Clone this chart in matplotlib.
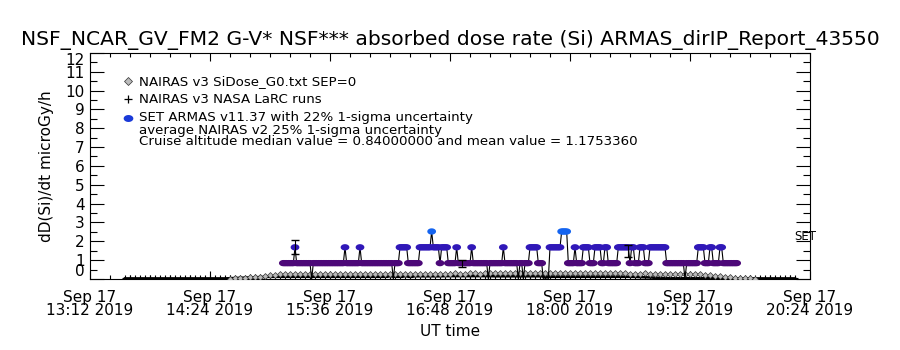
import numpy as np
import matplotlib
matplotlib.use("Agg")
import matplotlib.pyplot as plt
import matplotlib.dates as mdates
from matplotlib.path import Path

# axis range and ticks
t_start = np.datetime64("2019-09-17T13:12")
t_end = np.datetime64("2019-09-17T20:24")
yticks = list(range(0, 13))

# SET ARMAS dose rate: runs of (level, minutes) starting 15:08, 1-min samples
armas_first = np.datetime64("2019-09-17T15:08")
armas_levels = [0.84, 1.68, 0.84, 0.00, 0.84, 1.68, 0.84, 1.68, 0.84, 0.00,
                0.84, 1.68, 0.84, 1.68, 2.52, 1.68, 0.84, 1.68, 0.84, 1.68,
                0.84, 1.68, 0.84, 0.00, 0.84, 1.68, 0.84, 0.00, 0.84, 0.00,
                0.84, 1.68, 0.84, 0.00, 1.68, 2.52, 0.84, 1.68, 0.84, 1.68,
                0.84, 1.68, 0.84, 1.68, 0.84, 1.68, 0.84, 1.68, 0.84, 1.68,
                0.84, 1.68, 0.84, 0.00, 0.84, 1.68, 0.84, 1.68, 0.84, 1.68,
                0.84]
armas_minutes = [7, 1, 9, 1, 19, 1, 8, 1, 19, 1,
                 3, 5, 7, 7, 1, 4, 1, 4, 5, 1,
                 8, 1, 9, 1, 8, 1, 8, 1, 2, 1,
                 3, 5, 3, 4, 7, 4, 4, 1, 4, 4,
                 3, 4, 2, 2, 6, 7, 1, 2, 3, 3,
                 3, 10, 11, 1, 7, 4, 3, 2, 4, 2,
                 9]

# NAIRAS v3 SiDose_G0, every 3 min from 14:36
nairas_first = np.datetime64("2019-09-17T14:36")
nairas_si = [0.02, 0.03, 0.04, 0.06, 0.08, 0.10, 0.13, 0.16, 0.19, 0.22,
             0.24, 0.25, 0.26, 0.26, 0.25, 0.26, 0.27, 0.26, 0.26, 0.27,
             0.27, 0.26, 0.26, 0.27, 0.27, 0.27, 0.26, 0.27, 0.27, 0.28,
             0.27, 0.27, 0.28, 0.28, 0.27, 0.28, 0.28, 0.27, 0.28, 0.28,
             0.28, 0.28, 0.27, 0.28, 0.28, 0.29, 0.28, 0.28, 0.29, 0.29,
             0.28, 0.29, 0.29, 0.29, 0.30, 0.30, 0.31, 0.31, 0.32, 0.32,
             0.32, 0.32, 0.33, 0.33, 0.33, 0.32, 0.33, 0.33, 0.32, 0.32,
             0.32, 0.31, 0.31, 0.31, 0.30, 0.30, 0.29, 0.29, 0.29, 0.29,
             0.28, 0.28, 0.28, 0.29, 0.28, 0.28, 0.28, 0.27, 0.28, 0.27,
             0.27, 0.27, 0.27, 0.26, 0.24, 0.22, 0.20, 0.17, 0.14, 0.12,
             0.09, 0.07, 0.05, 0.04, 0.03, 0.02]

# NAIRAS v3 NASA LaRC runs, every 3 min from 13:33
larc_first = np.datetime64("2019-09-17T13:33")
larc = [0.03, 0.03, 0.03, 0.03, 0.03, 0.03, 0.03, 0.03, 0.03, 0.03,
        0.03, 0.03, 0.03, 0.03, 0.03, 0.03, 0.03, 0.03, 0.03, 0.03,
        0.03, 0.04, 0.05, 0.06, 0.07, 0.08, 0.09, 0.10, 0.11, 0.12,
        0.12, 0.12, 0.12, 0.12, 0.13, 0.12, 0.13, 0.13, 0.12, 0.13,
        0.13, 0.13, 0.13, 0.12, 0.13, 0.13, 0.13, 0.13, 0.13, 0.13,
        0.13, 0.13, 0.13, 0.14, 0.13, 0.13, 0.14, 0.13, 0.14, 0.14,
        0.14, 0.14, 0.14, 0.14, 0.15, 0.15, 0.15, 0.15, 0.15, 0.15,
        0.15, 0.15, 0.15, 0.15, 0.14, 0.14, 0.14, 0.14, 0.14, 0.14,
        0.14, 0.14, 0.14, 0.14, 0.13, 0.13, 0.13, 0.13, 0.13, 0.13,
        0.13, 0.13, 0.13, 0.13, 0.13, 0.13, 0.13, 0.13, 0.13, 0.13,
        0.12, 0.12, 0.11, 0.10, 0.09, 0.08, 0.07, 0.06, 0.05, 0.04,
        0.04, 0.04, 0.04, 0.04, 0.04, 0.04, 0.04, 0.04, 0.04, 0.04,
        0.03, 0.03, 0.03, 0.03, 0.03, 0.03, 0.03, 0.03, 0.03, 0.03,
        0.03, 0.03, 0.03, 0.03, 0.03]

# error bars on SET values
err_times = ["2019-09-17T15:15", "2019-09-17T16:55", "2019-09-17T18:35"]
err_low = [1.33, 0.64, 1.17]
err_high = [2.07, 1.01, 1.81]

title = "NSF_NCAR_GV_FM2 G-V* NSF*** absorbed dose rate (Si) ARMAS_dirIP_Report_43550"
legend_lines = ["NAIRAS v3 SiDose_G0.txt SEP=0",
                "NAIRAS v3 NASA LaRC runs",
                "SET ARMAS v11.37 with 22% 1-sigma uncertainty"]
note_lines = ["average NAIRAS v2 25% 1-sigma uncertainty",
              "Cruise altitude median value = 0.84000000 and mean value = 1.1753360"]

# expand runs
armas_y = np.repeat(armas_levels, armas_minutes)
armas_t = armas_first + np.arange(len(armas_y)).astype("timedelta64[m]")
nairas_t = nairas_first + (3 * np.arange(len(nairas_si))).astype("timedelta64[m]")
larc_t = larc_first + (3 * np.arange(len(larc))).astype("timedelta64[m]")
err_t = np.array(err_times, dtype="datetime64[m]")

level_colors = {0.84: "#4c0878", 1.68: "#3018b8", 2.52: "#1464f0"}
nz = armas_y > 0
armas_c = [level_colors[v] for v in armas_y[nz]]

# flat ellipse marker like the original plot symbol
ang = np.linspace(0, 2 * np.pi, 25)
blob = Path(np.column_stack([np.cos(ang), 0.72 * np.sin(ang)]))

fig = plt.figure(figsize=(9, 3.5), dpi=100)
ax = fig.add_axes([0.1, 0.203, 0.8, 0.646])

ax.plot(larc_t, larc, color="black", lw=1.8, marker="+", ms=4, mew=0.8, zorder=2)
ax.plot(nairas_t, nairas_si, ls="none", marker="D", ms=3, mfc="#bbbbbb",
        mec="#333333", mew=0.5, zorder=3)
ax.plot(armas_t, armas_y, color="black", lw=0.8, zorder=4)
ax.scatter(armas_t[nz], armas_y[nz], c=armas_c, s=40, marker=blob, linewidths=0, zorder=5)
for t, lo, hi in zip(err_t, err_low, err_high):
    ax.errorbar([t], [(lo + hi) / 2], yerr=[[(hi - lo) / 2], [(hi - lo) / 2]],
                fmt="none", ecolor="black", elinewidth=0.8, capsize=3, zorder=6)

ax.text(np.datetime64("2019-09-17T20:21"), 2.23, "SET", fontsize=8.5, ha="center", va="center")

ax.set_xlim(t_start, t_end)
ax.set_ylim(0, 12)
ax.set_yticks(yticks)
ax.yaxis.set_minor_locator(plt.MultipleLocator(0.5))
ax.set_xticks(np.arange(t_start, t_end + np.timedelta64(1, "m"), np.timedelta64(72, "m")))
ax.xaxis.set_minor_locator(mdates.MinuteLocator(byminute=range(0, 60, 12)))
ax.xaxis.set_major_formatter(mdates.DateFormatter("%b %d\n%H:%M %Y"))
ax.tick_params(axis="y", which="major", direction="in", length=10, width=0.8,
               right=True, labelsize=11, pad=4)
ax.tick_params(axis="y", which="minor", direction="in", length=5, width=0.8, right=True)
ax.tick_params(axis="x", which="major", direction="in", length=6, width=0.8,
               top=True, labelsize=11, pad=8)
ax.tick_params(axis="x", which="minor", direction="in", length=3, width=0.8, top=True)
for lab in ax.get_xticklabels():
    lab.set_linespacing(0.85)
ylabs = ax.get_yticklabels()
ylabs[0].set_va("bottom")
ylabs[-1].set_va("top")
for s in ax.spines.values():
    s.set_linewidth(0.8)

ax.set_ylabel("dD(Si)/dt microGy/h", fontsize=11, labelpad=8)
ax.set_xlabel("UT time", fontsize=11, labelpad=4)
fig.suptitle(title, fontsize=14.6, y=0.915)

# legend drawn by hand
leg_y = [0.875, 0.795, 0.713]
ax.plot([0.053], [leg_y[0]], marker="D", ms=4, mfc="#bbbbbb", mec="#333333", mew=0.5,
        transform=ax.transAxes, clip_on=False)
ax.plot([0.053], [leg_y[1]], marker="+", ms=6, color="black", mew=0.9,
        transform=ax.transAxes, clip_on=False)
ax.plot([0.053], [leg_y[2]], marker=blob, ms=7, color="#1a3ad8", mew=0,
        transform=ax.transAxes, clip_on=False)
for y, txt in zip(leg_y, legend_lines):
    ax.text(0.068, y, txt, fontsize=9.6, va="center", transform=ax.transAxes)
ax.text(0.068, 0.656, note_lines[0], fontsize=9.6, va="center", transform=ax.transAxes)
ax.text(0.068, 0.607, note_lines[1], fontsize=9.6, va="center", transform=ax.transAxes)

fig.savefig("out.png", dpi=100)
